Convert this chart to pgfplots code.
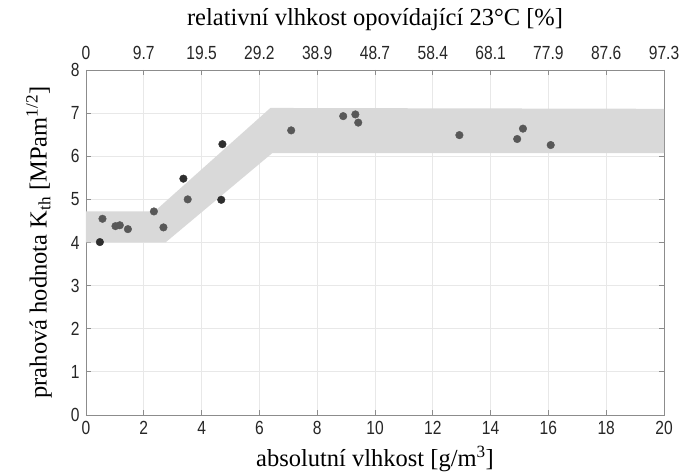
\documentclass[border=0pt]{standalone}
\usepackage{fontspec}
\setmainfont{Liberation Serif}
\newfontfamily\ticksf[FakeStretch=0.82]{Liberation Sans}
\usepackage{pgfplots}
\pgfplotsset{compat=1.18}
\definecolor{bandc}{HTML}{D9D9D9}
\definecolor{ptc}{HTML}{585858}
\definecolor{ptd}{HTML}{2E2E2E}
\definecolor{axc}{HTML}{8C8C8C}
\definecolor{gridc}{HTML}{E8E8E8}
\begin{document}
\begin{tikzpicture}[x=1pt,y=1pt]
\useasboundingbox (-86,-58) rectangle (596,415);
\begin{axis}[
  at={(0,0)}, anchor=south west,
  scale only axis, width=578pt, height=345pt,
  xmin=0, xmax=20, ymin=0, ymax=8,
  xtick={0,2,...,20}, ytick={0,1,...,8},
  grid=major, major grid style={gridc, line width=0.8pt},
  axis line style={axc, line width=0.9pt},
  tick style={axc, line width=0.9pt}, major tick length=5pt,
  tick align=inside,
  /pgf/number format/assume math mode=true,
  ticklabel style={font=\ticksf\fontsize{19}{21}\selectfont, black!85},
  xticklabel style={yshift=-3pt},
  yticklabel style={xshift=-3pt},
  xlabel={absolutní vlhkost [g/m\textsuperscript{3}]},
  ylabel={prahová hodnota K\textsubscript{th} [MPam\textsuperscript{1/2}]},
  label style={font=\fontsize{24.5}{26}\selectfont},
  xlabel style={yshift=-4pt},
  ylabel style={yshift=12pt},
]
\addplot[fill=bandc, draw=none] coordinates {
 (0,4.0) (2.75,4.0) (6.44,6.07) (20,6.07) (20,7.1) (6.38,7.12) (2.37,4.72) (0,4.72)} --cycle;
\addplot[only marks, mark=*, mark size=3.8pt, color=ptc] coordinates {
 (0.57,4.55) (1.02,4.38) (1.17,4.40) (1.45,4.31) (2.35,4.72) (2.68,4.35)
 (3.52,5.00) (7.1,6.60) (8.9,6.93) (9.32,6.97) (9.42,6.78)
 (12.92,6.49) (14.92,6.40) (15.12,6.64) (16.08,6.26)};
\addplot[only marks, mark=*, mark size=3.8pt, color=ptd] coordinates {
 (0.48,4.01) (3.37,5.48) (4.68,4.99) (4.72,6.28)};
\end{axis}
\begin{axis}[
  at={(0,0)}, anchor=south west,
  scale only axis, width=578pt, height=345pt,
  xmin=0, xmax=20, ymin=0, ymax=8,
  axis x line*=top, axis y line=none,
  xtick={0,2,...,20},
  xticklabels={0,9.7,19.5,29.2,38.9,48.7,58.4,68.1,77.9,87.6,97.3},
  major tick length=0pt,
  axis line style={draw=none},
  ticklabel style={font=\ticksf\fontsize{19}{21}\selectfont, black!85},
  xticklabel style={yshift=7pt},
  xlabel={relativní vlhkost opovídající 23°C [\%]},
  label style={font=\fontsize{24.5}{26}\selectfont},
  xlabel style={yshift=8pt},
]
\addplot[draw=none] coordinates {(0,0)};
\end{axis}
\end{tikzpicture}
\end{document}
